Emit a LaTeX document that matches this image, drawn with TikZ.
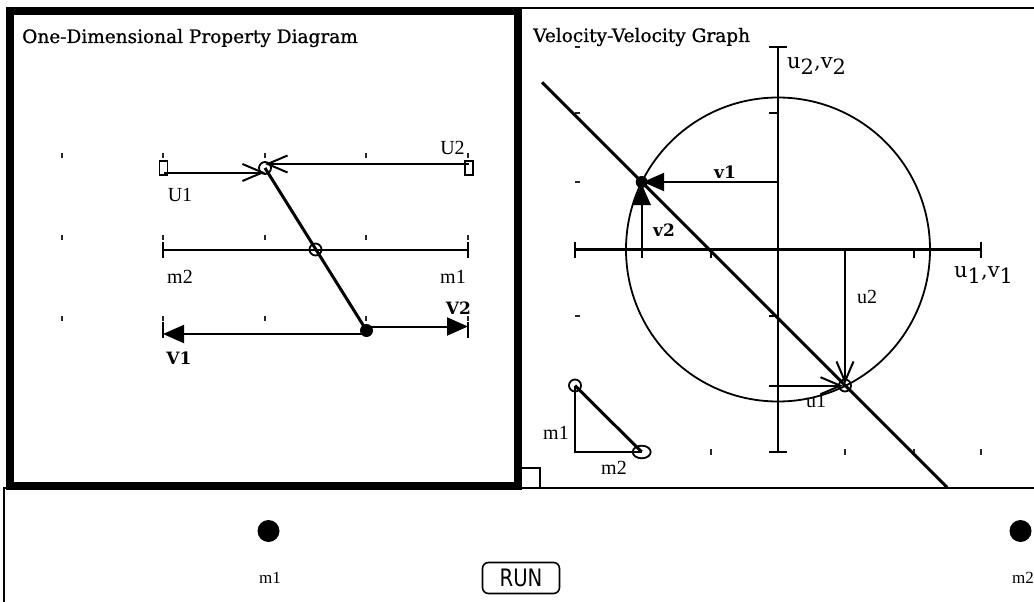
\documentclass[tikz,border=0pt]{standalone}
\usepackage{fontspec}
\usepackage{graphicx}
\setmainfont{Liberation Serif}
\newfontfamily\dvserif{DejaVu Serif}
\newfontfamily\dvseriftitle[FakeBold=0.8]{DejaVu Serif}
\newfontfamily\dvsans{DejaVu Sans}
\usetikzlibrary{arrows.meta}
\tikzset{
  thinframe/.style={line width=2pt},
  thickframe/.style={line width=7.5pt},
  gridtick/.style={line width=2pt, black!85},
  axisline/.style={line width=2.5pt},
  plainline/.style={line width=2pt},
  heavyline/.style={line width=3pt},
  thinlabel/.style={font=\fontsize{20}{20}\selectfont, inner sep=0pt},
  boldlabel/.style={font=\dvserif\bfseries\fontsize{17}{17}\selectfont, inner sep=0pt},
  axislabel/.style={font=\dvserif\fontsize{21}{21}\selectfont, inner sep=0pt},
  paneltitle/.style={font=\dvseriftitle\fontsize{18.5}{18.5}\selectfont, anchor=base west, inner sep=0pt},
  openarrow/.style={-{Straight Barb[length=20pt,width=17pt]}},
  fillarrow/.style={-{Triangle[length=21pt,width=18pt]}},
  opencirc/.style={circle, draw, line width=1.8pt, minimum size=12pt, inner sep=0pt},
  dotnode/.style={circle, fill, minimum size=13pt, inner sep=0pt},
  marker/.style={draw, line width=1.6pt, minimum width=8pt, minimum height=14pt, inner sep=0pt},
}
\newcommand{\subd}[1]{\raisebox{-6pt}{#1}}
\begin{document}
\begin{tikzpicture}[x=1pt,y=-1pt]
\useasboundingbox (0,0) rectangle (1034,602);
\fill[white] (0,0) rectangle (1034,602);

% ---------- frames ----------
\coordinate (bpL) at (4,488);
\coordinate (bpR) at (1034,488);
\coordinate (bpB) at (4,602);
\draw[thinframe] (bpB) -- (bpL) -- (bpR);
\coordinate (rpL) at (518,8);
\coordinate (rpR) at (1034,8);
\draw[line width=2.2pt] (rpL) -- (rpR);
\coordinate (sqA) at (521,468);
\coordinate (sqB) at (540,488);
\draw[thinframe] (sqA) rectangle (sqB);
\coordinate (lpA) at (10,11);
\coordinate (lpB) at (518,486);
\draw[thickframe] (lpA) rectangle (lpB);

% ---------- titles ----------
\node[paneltitle] (t1) at (22,43) {One-Dimensional Property Diagram};
\node[paneltitle] (t2) at (533,42) {Velocity-Velocity Graph};

% ---------- left panel grid ticks ----------
\foreach \gx in {62,163,265,366,468}{
  \foreach \gy in {155.5,237.5,318.5}{
    \draw[gridtick] (\gx,\gy-2.5) -- (\gx,\gy+2.5);
  }
}

% ---------- left panel: U row ----------
\node[marker] (U1m) at (163.5,168) {};
\node[marker] (U2m) at (469,168) {};
\coordinate (U1s) at (163.5,172.5);
\coordinate (U1t) at (265,172.5);
\coordinate (U2s) at (469,164);
\coordinate (U2t) at (265,164);
\draw[plainline,openarrow] (U1s) -- (U1t);
\draw[plainline,openarrow] (U2s) -- (U2t);
\node[thinlabel] (U1l) at (180,195) {U1};
\node[thinlabel] (U2l) at (452.5,147.5) {U2};

% ---------- left panel: m row ----------
\coordinate (mL) at (163,249.5);
\coordinate (mR) at (468,249.5);
\draw[plainline] (mL) -- (mR);
\draw[plainline] (163,241.5) -- (163,257.5);
\draw[plainline] (468,241.5) -- (468,257.5);
\node[thinlabel] (m2l) at (180,276.5) {m2};
\node[thinlabel] (m1l) at (453,276.5) {m1};

% ---------- left panel: V row ----------
\draw[plainline] (163,322) -- (163,337.5);
\draw[plainline] (468,322) -- (468,337.5);
\coordinate (V1s) at (366,334);
\coordinate (V1t) at (163,334);
\coordinate (V2s) at (366,326.5);
\coordinate (V2t) at (468,326.5);
\draw[plainline,fillarrow] (V1s) -- (V1t);
\draw[plainline,fillarrow] (V2s) -- (V2t);
\node[boldlabel] (V1l) at (179,358) {V1};
\node[boldlabel] (V2l) at (458.5,308) {V2};

% ---------- collision line ----------
\coordinate (cTop) at (265,168);
\coordinate (cBot) at (366.5,330.5);
\draw[heavyline] (cTop) -- (cBot);
\node[opencirc] (cc1) at (cTop) {};
\node[opencirc] (cc2) at (315.5,249.5) {};
\node[dotnode] (cd) at (cBot) {};

% ---------- right panel grid ticks ----------
\foreach \gy in {47,113,182,316}{
  \draw[gridtick] (575,\gy) -- (580,\gy);
}
\foreach \gx in {711,845,914,981}{
  \draw[gridtick] (\gx,449) -- (\gx,455);
}

% ---------- right panel axes ----------
\coordinate (O) at (778,249.5);
\coordinate (xL) at (575,249.5);
\coordinate (xR) at (981,249.5);
\coordinate (yT) at (778,47);
\coordinate (yB) at (778,452);
\draw[axisline] (xL) -- (xR);
\draw[axisline] (yT) -- (yB);
\draw[axisline] (575,241.5) -- (575,258);
\draw[axisline] (981,241.5) -- (981,258);
\draw[axisline] (769,47) -- (787,47);
\draw[axisline] (769,452) -- (787,452);
\foreach \gx in {642,711,914}{ \draw[axisline] (\gx,249.5) -- (\gx,258); }
\foreach \gy in {113,249.5,316}{ \draw[axisline] (769,\gy) -- (778,\gy); }
\node[axislabel, anchor=west] (ax2) at (787,66) {u\subd{2},v\subd{2}};
\node[axislabel, anchor=west] (ax1) at (954,275) {u\subd{1},v\subd{1}};

% ---------- circle and line ----------
\draw[line width=1.8pt] (O) circle[radius=152];
\coordinate (dA) at (542,82.3);
\coordinate (dB) at (947,487.3);
\draw[heavyline] (dA) -- (dB);

% ---------- v arrows ----------
\coordinate (Vp) at (641.7,182);
\coordinate (v1s) at (778,182);
\coordinate (v1t) at (643,182);
\coordinate (v2s) at (641.7,249.5);
\coordinate (v2t) at (641.7,184);
\draw[plainline,fillarrow] (v1s) -- (v1t);
\draw[plainline,fillarrow] (v2s) -- (v2t);
\node[dotnode, minimum size=12pt] (vdot) at (Vp) {};
\node[boldlabel] (v1l) at (725,172) {v1};
\node[boldlabel] (v2l) at (664,230) {v2};

% ---------- u arrows ----------
\coordinate (Up) at (845,385.5);
\coordinate (u2s) at (845,249.5);
\coordinate (u2t) at (845,384);
\coordinate (u1s) at (769,385.7);
\coordinate (u1t) at (843,385.7);
\draw[plainline,openarrow] (u2s) -- (u2t);
\draw[plainline,openarrow] (u1s) -- (u1t);
\node[opencirc] (ucirc) at (Up) {};
\node[thinlabel] (u2l) at (867,297) {u2};
\node[thinlabel] (u1l) at (816,401) {u1};

% ---------- mass triangle ----------
\coordinate (T1) at (575,385.5);
\coordinate (T2) at (575,452);
\coordinate (T3) at (641.7,452);
\draw[plainline] (T1) -- (T2) -- (T3);
\draw[heavyline] (T1) -- (T3);
\node[opencirc] (T1c) at (T1) {};
\draw[line width=1.8pt] (T3) ellipse[x radius=9, y radius=6.3];
\node[thinlabel] (tm1) at (556,433) {m1};
\node[thinlabel] (tm2) at (614,468) {m2};

% ---------- bottom panel ----------
\node[dotnode, minimum size=22pt] (b1) at (268.5,531) {};
\node[dotnode, minimum size=22pt] (b2) at (1020.5,531) {};
\node[thinlabel, font=\fontsize{17}{17}\selectfont] (b1l) at (270,578) {m1};
\node[thinlabel, font=\fontsize{17}{17}\selectfont, anchor=west] (b2l) at (1012,578) {m2};
\node[draw, line width=1.6pt, rounded corners=6pt, minimum width=77pt, minimum height=31pt,
      font=\dvsans\fontsize{24}{24}\selectfont, inner sep=0pt] (run) at (521,578) {\scalebox{0.82}[1]{RUN}};
\end{tikzpicture}
\end{document}
